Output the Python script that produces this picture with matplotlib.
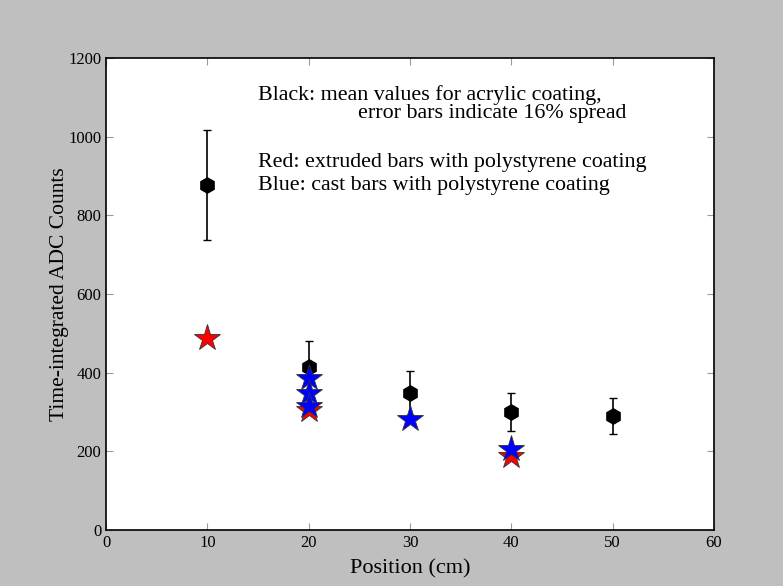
import matplotlib.pyplot as plt

# black: mean values for acrylic coating (16% error bars)
pos_black = [10, 20, 30, 40, 50]
adc_black = [877, 414, 348, 301, 290]
err_black = [v * 0.16 for v in adc_black]

# red: extruded bars, polystyrene coating
pos_red = [10, 20, 40]
adc_red = [488, 305, 188]

# blue: cast bars, polystyrene coating
pos_blue = [20, 20, 20, 30, 40]
adc_blue = [386, 348, 314, 281, 207]

plt.rcParams['font.family'] = ['Liberation Serif', 'DejaVu Serif']

fig = plt.figure(figsize=(7.83, 5.86), dpi=100, facecolor='#bfbfbf')
ax = fig.add_axes([0.1354, 0.0956, 0.7765, 0.8054])

ax.errorbar(pos_black, adc_black, yerr=err_black, fmt='h', color='black',
            markersize=11, ecolor='black', elinewidth=1.2, capsize=3,
            capthick=1, zorder=2)
ax.plot(pos_red, adc_red, '*', color='red', markeredgecolor='#333333',
        markeredgewidth=0.6, markersize=20, linestyle='none', zorder=3)
ax.plot(pos_blue, adc_blue, '*', color='blue', markeredgecolor='#333333',
        markeredgewidth=0.6, markersize=20, linestyle='none', zorder=4)

ax.set_xlim(0, 60)
ax.set_ylim(0, 1200)
ax.set_xticks(range(0, 61, 10))
ax.set_yticks(range(0, 1201, 200))
ax.tick_params(direction='in', top=True, right=True, labelsize=12,
               color='#999999', length=5)
for s in ax.spines.values():
    s.set_linewidth(1.2)

ax.set_xlabel('Position (cm)', fontsize=16, labelpad=6)
ax.set_ylabel('Time-integrated ADC Counts', fontsize=15.5, labelpad=-1)

ax.text(0.25, 0.922, 'Black: mean values for acrylic coating,',
        transform=ax.transAxes, fontsize=15.8, va='center')
ax.text(0.414, 0.882, 'error bars indicate 16% spread',
        transform=ax.transAxes, fontsize=15.8, va='center')
ax.text(0.25, 0.778, 'Red: extruded bars with polystyrene coating',
        transform=ax.transAxes, fontsize=15.8, va='center')
ax.text(0.25, 0.730, 'Blue: cast bars with polystyrene coating',
        transform=ax.transAxes, fontsize=15.8, va='center')

fig.savefig('out.png', dpi=100, facecolor=fig.get_facecolor())
